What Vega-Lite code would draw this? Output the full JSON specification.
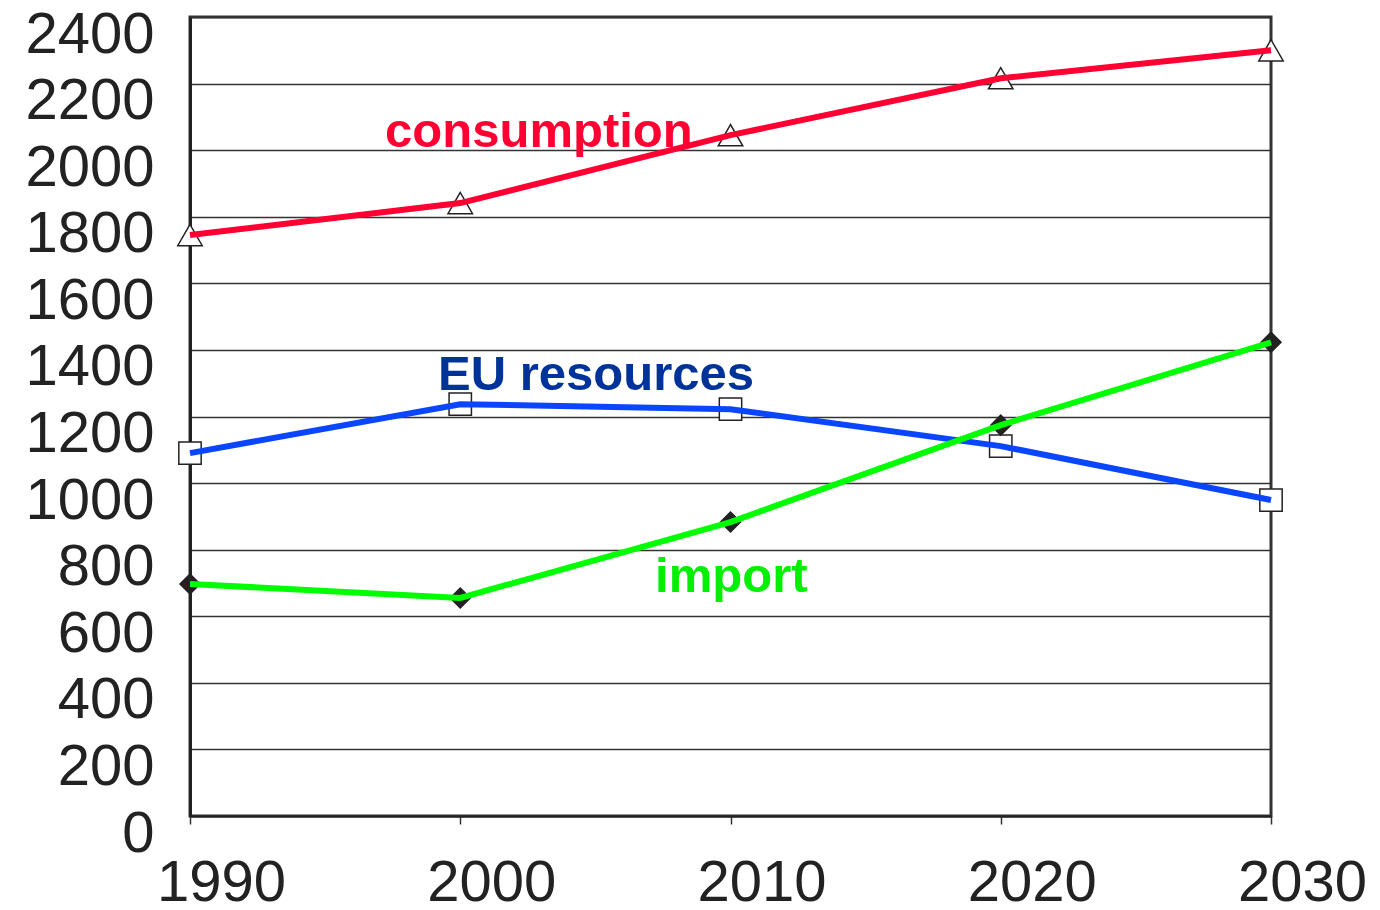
{
  "$schema": "https://vega.github.io/schema/vega-lite/v6.json",
  "width": 1081,
  "height": 799,
  "autosize": {"type": "none"},
  "padding": {"left": 190, "top": 17, "right": 109, "bottom": 94},
  "background": "white",
  "config": {
    "view": {"stroke": "#333333", "strokeWidth": 3},
    "font": "Liberation Sans"
  },
  "resolve": {"scale": {"color": "independent"}},
  "datasets": {
    "series": [
      {"series": "consumption", "year": 1990, "value": 1745},
      {"series": "consumption", "year": 2000, "value": 1841},
      {"series": "consumption", "year": 2010, "value": 2045},
      {"series": "consumption", "year": 2020, "value": 2216},
      {"series": "consumption", "year": 2030, "value": 2300},
      {"series": "EU resources", "year": 1990, "value": 1090},
      {"series": "EU resources", "year": 2000, "value": 1237},
      {"series": "EU resources", "year": 2010, "value": 1222},
      {"series": "EU resources", "year": 2020, "value": 1111},
      {"series": "EU resources", "year": 2030, "value": 949},
      {"series": "import", "year": 1990, "value": 697},
      {"series": "import", "year": 2000, "value": 655},
      {"series": "import", "year": 2010, "value": 883},
      {"series": "import", "year": 2020, "value": 1174},
      {"series": "import", "year": 2030, "value": 1423}
    ],
    "labels": [
      {"series": "consumption", "year": 1997.22, "value": 2010},
      {"series": "EU resources", "year": 1999.18, "value": 1280},
      {"series": "import", "year": 2007.21, "value": 673}
    ]
  },
  "layer": [
    {
      "data": {"name": "series"},
      "mark": {"type": "point", "filled": false, "stroke": "#222222", "strokeWidth": 1.5, "fill": "white", "fillOpacity": 1, "opacity": 1},
      "encoding": {
        "x": {"field": "year", "type": "quantitative", "scale": {"domain": [1990, 2030], "nice": false, "zero": false},
          "axis": {"values": [1990, 2000, 2010, 2020, 2030], "title": null, "grid": false, "format": "d",
            "labelFlush": false, "labelOverlap": false, "labelBound": false,
            "labelFontSize": 58, "labelColor": "#222222", "labelOffset": 31, "labelPadding": 30,
            "domainColor": "#222222", "domainWidth": 2, "tickColor": "#333333", "tickSize": 8, "tickWidth": 1.5}},
        "y": {"field": "value", "type": "quantitative", "scale": {"domain": [0, 2400], "nice": false},
          "axis": {"values": [0, 200, 400, 600, 800, 1000, 1200, 1400, 1600, 1800, 2000, 2200, 2400], "title": null,
            "format": "d", "labelFlush": false, "labelOverlap": false, "labelBound": false,
            "grid": true, "gridColor": "#333333", "gridWidth": 1.5, "gridOpacity": 1, "ticks": false,
            "labelFontSize": 58, "labelColor": "#222222", "labelOffset": 18, "labelPadding": 36,
            "domainColor": "#222222", "domainWidth": 3}},
        "shape": {"field": "series", "type": "nominal", "legend": null,
          "scale": {"domain": ["consumption", "EU resources", "import"], "range": ["triangle-up", "square", "diamond"]}},
        "size": {"field": "series", "type": "nominal", "legend": null,
          "scale": {"domain": ["consumption", "EU resources", "import"], "range": [600, 400, 300]}},
        "fill": {"field": "series", "type": "nominal", "legend": null,
          "scale": {"domain": ["consumption", "EU resources", "import"], "range": ["#ffffff", "#ffffff", "#222222"]}}
      }
    },
    {
      "data": {"name": "series"},
      "mark": {"type": "line", "strokeWidth": 6},
      "encoding": {
        "x": {"field": "year", "type": "quantitative"},
        "y": {"field": "value", "type": "quantitative"},
        "color": {"field": "series", "type": "nominal", "legend": null,
          "scale": {"domain": ["consumption", "EU resources", "import"], "range": ["#ff0033", "#0a46ff", "#00ff00"]}}
      }
    },
    {
      "data": {"name": "labels"},
      "mark": {"type": "text", "align": "left", "baseline": "alphabetic", "fontSize": 49, "fontWeight": "bold", "font": "Liberation Sans"},
      "encoding": {
        "x": {"field": "year", "type": "quantitative"},
        "y": {"field": "value", "type": "quantitative"},
        "text": {"field": "series", "type": "nominal"},
        "color": {"field": "series", "type": "nominal", "legend": null,
          "scale": {"domain": ["consumption", "EU resources", "import"], "range": ["#ff0033", "#003399", "#00f000"]}}
      }
    }
  ]
}
